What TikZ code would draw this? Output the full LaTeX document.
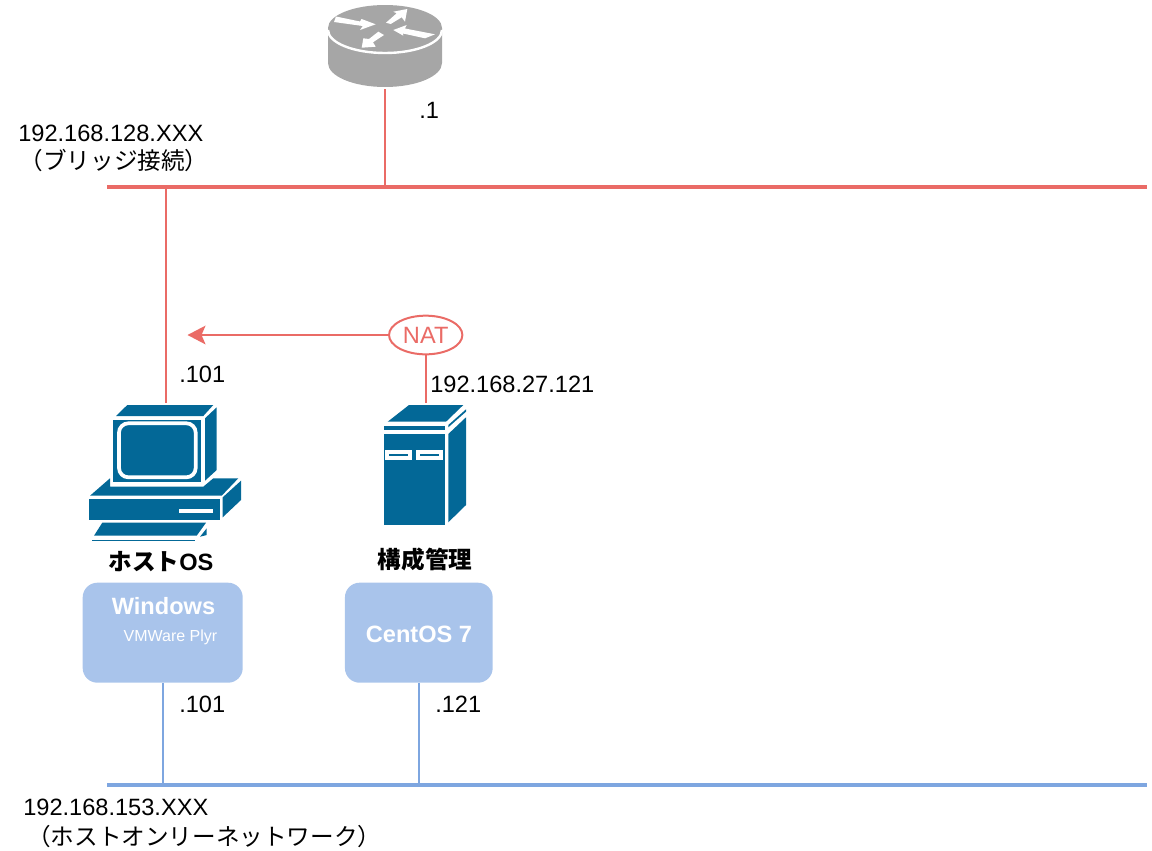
\documentclass[tikz,border=0pt]{standalone}
\usepackage{fontspec}
\setmainfont{Liberation Sans}
\newfontfamily\jpfont{Noto Sans CJK JP}
\usetikzlibrary{arrows.meta,positioning,shapes.geometric}
\definecolor{redline}{HTML}{EA6B66}
\definecolor{blueline}{HTML}{7EA6E0}
\definecolor{boxfill}{HTML}{A9C4EB}
\definecolor{icongray}{HTML}{A6A6A6}
\definecolor{iconblue}{HTML}{036897}
\begin{document}
\begin{tikzpicture}[
	x=0.75pt, y=-0.75pt,
	txt/.style={font=\fontsize{17.7pt}{21pt}\selectfont, inner sep=0pt, align=left, text=black},
	heading/.style={font=\fontsize{17.7pt}{21pt}\selectfont\bfseries, inner sep=0pt, text=black},
	osbox/.style={rectangle, rounded corners=11pt, fill=boxfill, minimum height=75pt, inner sep=0pt},
	boxtitle/.style={font=\fontsize{17.7pt}{21pt}\selectfont\bfseries, inner sep=0pt, text=white},
	boxsub/.style={font=\fontsize{12pt}{14pt}\selectfont, inner sep=0pt, text=white},
	redwire/.style={draw=redline, line width=1.5pt},
	bluewire/.style={draw=blueline, line width=1.5pt},
	redbus/.style={draw=redline, line width=3pt},
	bluebus/.style={draw=blueline, line width=3pt},
	iconpart/.style={fill=iconblue, draw=none}
	]
	\useasboundingbox (0,0) rectangle (1152,850);

	% Router
	\fill[icongray] (328,28) -- (328,63) arc[start angle=180, end angle=360, x radius=57*0.75pt, y radius=24*0.75pt] -- (442,28) -- cycle;
	\fill[icongray] (385,28) ellipse[x radius=57*0.75pt, y radius=23*0.75pt];
	\draw[white, line width=1.8pt] (328,30) arc[start angle=180, end angle=360, x radius=57*0.75pt, y radius=23*0.75pt];
	\fill[white] (336,16.5) -- (360,21.5) -- (361.5,19) -- (375.7,24.3) -- (360,30) -- (362.7,26) -- (334,22) -- cycle;
	\fill[white] (386,22.7) -- (396.7,13.3) -- (393.3,11.7) -- (407.3,9) -- (405,21.7) -- (401.7,17.3) -- (390.7,24) -- cycle;
	\fill[white] (435,34.3) -- (425,38.3) -- (403,33.5) -- (403.3,35.7) -- (393.3,30) -- (406.7,25) -- (405,28.5) -- cycle;
	\fill[white] (378.3,31.7) -- (369,39) -- (363.3,38.3) -- (361.7,47.7) -- (375.7,46.7) -- (373,42.3) -- (384,35) -- cycle;
	\coordinate (router) at (385,89);

	% Host PC
	\fill[iconpart] (127.3,405) -- (213.3,405) -- (203.3,416) -- (116,416) -- cycle;
	\fill[iconpart] (205,418.3) -- (216.7,407.3) -- (216.7,470) -- (205,480.7) -- cycle;
	\fill[iconpart] (113.3,420) rectangle (200.7,482.3);
	\draw[white, line width=2.8pt, rounded corners=7pt] (119,423.3) rectangle (195.7,477.3);
	\fill[iconpart] (110,478.3) -- (90,495.7) -- (221.7,495.7) -- (238.3,478.3) -- (213.3,478.3) -- (203.3,486.7) -- (110,486.7) -- cycle;
	\fill[iconpart] (89,499.3) rectangle (220,520);
	\fill[white] (179.3,509) rectangle (213.3,513.3);
	\fill[iconpart] (222.7,497.3) -- (241,480.7) -- (241,500) -- (222.7,517.3) -- cycle;
	\fill[iconpart] (102.3,522.7) -- (206,522.7) -- (196.7,535.7) -- (94,535.7) -- cycle;
	\fill[iconpart] (92.3,539.5) rectangle (195,541);
	\fill[iconpart] (200,536.7) -- (206.7,528.3) -- (206.7,535) -- cycle;
	\coordinate (hostpc) at (166,403);

	% Server
	\fill[iconpart] (409,405) -- (463.3,405) -- (446,421.7) -- (387.7,421.7) -- cycle;
	\fill[iconpart] (384,426) rectangle (445,430);
	\fill[iconpart] (384,434.3) rectangle (445,525);
	\fill[iconpart] (448.3,425) -- (466,409.3) -- (466,411.7) -- (448.3,427.3) -- cycle;
	\fill[iconpart] (448.3,434) -- (466,417.3) -- (466,505) -- (448.3,522.3) -- cycle;
	\fill[white] (385,450) rectangle (411.7,460);
	\fill[white] (416,450) rectangle (442.7,460);
	\draw[iconblue, line width=0.9pt] (389.3,455) -- (408.3,455);
	\draw[iconblue, line width=0.9pt] (420.3,455) -- (439.3,455);
	\coordinate (server) at (425.7,403);

	% Networks
	\coordinate (bridgeL) at (107,186.7);
	\coordinate (bridgeR) at (1147,186.7);
	\coordinate (hostonlyL) at (107,785);
	\coordinate (hostonlyR) at (1147,785);
	\draw[redbus] (bridgeL) -- (bridgeR);
	\draw[bluebus] (hostonlyL) -- (hostonlyR);

	% OS boxes
	\node[osbox, minimum width=120pt] (winbox) at (162.7,632.7) {};
	\node[osbox, minimum width=110.8pt] (centbox) at (418.8,632.7) {};
	\node[boxtitle] (wintitle) at (163.5,606) {Windows};
	\node[boxsub] (winsub) at (170.5,637) {VMWare Plyr};
	\node[boxtitle] (centtitle) at (419,634) {CentOS 7};

	% NAT
	\node[ellipse, draw=redline, line width=1.5pt, minimum width=55pt, minimum height=29pt, inner sep=0pt, text=redline, font=\fontsize{17.7pt}{21pt}\selectfont] (nat) at (425.7,335) {NAT};
	\coordinate (natend) at (187.5,335);

	% Wires
	\draw[redwire] (router) -- (router |- bridgeL);
	\draw[redwire] (hostpc) -- (hostpc |- bridgeL);
	\draw[redwire] (server) -- (server |- nat.south);
	\draw[redwire, -{Stealth[length=13.5pt,width=14pt,inset=3pt]}] (nat) -- (natend);
	\draw[bluewire] (winbox) -- (winbox |- hostonlyL);
	\draw[bluewire] (centbox) -- (centbox |- hostonlyL);

	% Labels
	\node[txt, anchor=west] (bridgelabel) at (18,148) {192.168.128.XXX\\\hspace*{1pt}{\jpfont （ブリッジ接続）}};
	\node[txt, anchor=north west] (hostonlylabel) at (23,799) {192.168.153.XXX\\[1pt]\hspace*{3pt}{\jpfont （ホストオンリーネットワーク）}};
	\node[txt, anchor=west] (dot1) at (419,110) {.1};
	\node[txt, anchor=west] (dot101a) at (179,374) {.101};
	\node[txt, anchor=west] (natip) at (430,384) {192.168.27.121};
	\node[txt, anchor=west] (dot101b) at (179,704) {.101};
	\node[txt, anchor=west] (dot121) at (435,704) {.121};
	\node[heading] (hostname) at (161,562) {{\jpfont ホスト}OS};
	\node[heading] (servername) at (425,559) {{\jpfont 構成管理}};
\end{tikzpicture}
\end{document}
